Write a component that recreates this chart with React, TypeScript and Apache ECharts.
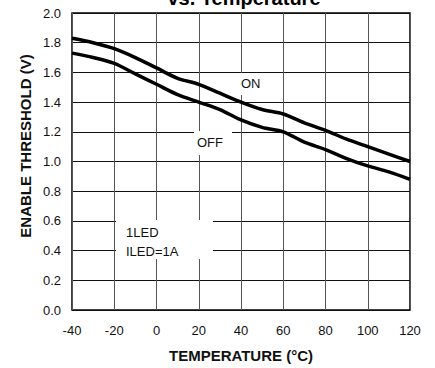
import React, { useEffect, useRef } from "react";
import * as echarts from "echarts";

const temperatures = [-40, -30, -20, -10, 0, 10, 20, 30, 40, 50, 60, 70, 80, 90, 100, 110, 120];
const onThreshold = [1.83, 1.8, 1.76, 1.7, 1.63, 1.56, 1.52, 1.46, 1.4, 1.35, 1.32, 1.26, 1.21, 1.15, 1.1, 1.05, 1.0];
const offThreshold = [1.73, 1.7, 1.66, 1.59, 1.52, 1.45, 1.4, 1.35, 1.28, 1.23, 1.2, 1.13, 1.08, 1.02, 0.97, 0.93, 0.88];

const FONT = "'Liberation Sans', Arial, Helvetica, sans-serif";

export default function App() {
  const ref = useRef<HTMLDivElement>(null);
  useEffect(() => {
    if (!ref.current) return;
    const chart = echarts.init(ref.current, null, { renderer: "svg" });
    const toPairs = (vals: number[]) => temperatures.map((t, i) => [t, vals[i]]);
    chart.setOption({
      animation: false,
      backgroundColor: "#fff",
      grid: { left: 72, right: 25, top: 13, bottom: 58, show: true, borderColor: "#000", borderWidth: 1.5, backgroundColor: "transparent" },
      xAxis: {
        type: "value",
        min: -40,
        max: 120,
        interval: 20,
        axisLine: { show: false },
        axisTick: { show: false },
        splitLine: { show: true, lineStyle: { color: "#555", width: 1 } },
        axisLabel: { color: "#111", fontSize: 13, fontFamily: FONT, margin: 14 },
      },
      yAxis: {
        type: "value",
        min: 0,
        max: 2,
        interval: 0.2,
        axisLine: { show: false },
        axisTick: { show: false },
        splitLine: { show: true, lineStyle: { color: "#111", width: 1 } },
        axisLabel: { color: "#111", fontSize: 13, fontFamily: FONT, margin: 11, formatter: (v: number) => v.toFixed(1) },
      },
      series: [
        { name: "ON", type: "line", data: toPairs(onThreshold), smooth: 0.3, symbol: "none", lineStyle: { color: "#000", width: 3.5 }, z: 3 },
        { name: "OFF", type: "line", data: toPairs(offThreshold), smooth: 0.3, symbol: "none", lineStyle: { color: "#000", width: 3.5 }, z: 3 },
      ],
      graphic: [
        { type: "text", x: 244, y: -2, z: 5, style: { text: "vs. Temperature", font: `bold 20px ${FONT}`, fill: "#000", textAlign: "center", textVerticalAlign: "middle" } },
        { type: "text", x: 241, y: 355, z: 5, style: { text: "TEMPERATURE (°C)", font: `bold 15px ${FONT}`, fill: "#111", textAlign: "center", textVerticalAlign: "middle" } },
        { type: "text", x: 25, y: 146, rotation: Math.PI / 2, z: 5, style: { text: "ENABLE THRESHOLD (V)", font: `bold 15px ${FONT}`, fill: "#111", textAlign: "center", textVerticalAlign: "middle" } },
        { type: "rect", z: 1, shape: { x: 239, y: 73, width: 29, height: 22 }, style: { fill: "#fff" } },
        { type: "text", x: 241, y: 83, z: 5, style: { text: "ON", font: `13px ${FONT}`, fill: "#111", textAlign: "left", textVerticalAlign: "middle" } },
        { type: "rect", z: 1, shape: { x: 194, y: 131, width: 38, height: 24 }, style: { fill: "#fff" } },
        { type: "text", x: 197, y: 142, z: 5, style: { text: "OFF", font: `13px ${FONT}`, fill: "#111", textAlign: "left", textVerticalAlign: "middle" } },
        { type: "rect", z: 1, shape: { x: 116, y: 220, width: 97, height: 39 }, style: { fill: "#fff" } },
        { type: "text", x: 126, y: 232, z: 5, style: { text: "1LED", font: `13px ${FONT}`, fill: "#111", textAlign: "left", textVerticalAlign: "middle" } },
        { type: "text", x: 126, y: 251, z: 5, style: { text: "ILED=1A", font: `13px ${FONT}`, fill: "#111", textAlign: "left", textVerticalAlign: "middle" } },
      ],
    });
    return () => chart.dispose();
  }, []);
  return <div ref={ref} style={{ position: "fixed", left: 0, top: 0, width: 435, height: 368, background: "#fff" }} />;
}
